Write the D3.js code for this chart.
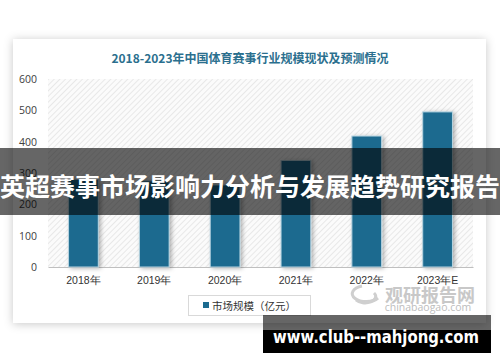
<!DOCTYPE html>
<html>
<head>
<meta charset="utf-8">
<script src="https://cdn.jsdelivr.net/npm/d3@7"></script>
<style>
  html, body { margin: 0; padding: 0; background: #fff; }
  svg { display: block; font-family: "Noto Sans CJK SC", "Noto Sans", sans-serif; }
</style>
</head>
<body>
<svg id="chart" width="500" height="362"></svg>
<script>
// 数据
const years = ['2018年', '2019年', '2020年', '2021年', '2022年', '2023年E'];
const marketSize = [280, 275, 262, 340, 418, 495];
const yTicks = [0, 100, 200, 300, 400, 500, 600];
const titleText = '2018-2023年中国体育赛事行业规模现状及预测情况';
const legendText = '市场规模（亿元）';
const bannerText = '英超赛事市场影响力分析与发展趋势研究报告';
const siteText = 'www.club--mahjong.com';

const svg = d3.select('#chart');
const defs = svg.append('defs');

// 卡片阴影
const shadow = defs.append('filter').attr('id', 'cardShadow')
    .attr('x', '-10%').attr('y', '-10%').attr('width', '120%').attr('height', '120%');
shadow.append('feDropShadow')
    .attr('dx', 0).attr('dy', 1).attr('stdDeviation', 5)
    .attr('flood-color', '#000').attr('flood-opacity', 0.22);

// 柱子阴影
const barShadow = defs.append('filter').attr('id', 'barShadow')
    .attr('x', '-30%').attr('y', '-10%').attr('width', '170%').attr('height', '130%');
barShadow.append('feDropShadow')
    .attr('dx', 2).attr('dy', 1).attr('stdDeviation', 2)
    .attr('flood-color', '#000').attr('flood-opacity', 0.3);

// 斜线底纹
const hatch = defs.append('pattern').attr('id', 'hatch')
    .attr('patternUnits', 'userSpaceOnUse')
    .attr('width', 4).attr('height', 4)
    .attr('patternTransform', 'rotate(45)');
hatch.append('rect').attr('width', 4).attr('height', 4).attr('fill', '#fbfbfb');
hatch.append('line').attr('x1', 0).attr('y1', 0).attr('x2', 0).attr('y2', 4)
    .attr('stroke', '#dcdcdc').attr('stroke-width', 1.2);

// 白色卡片
svg.append('rect')
    .attr('x', 13).attr('y', 39).attr('width', 473).attr('height', 284)
    .attr('fill', '#fff')
    .attr('filter', 'url(#cardShadow)');

// 标题
svg.append('text')
    .attr('x', 250).attr('y', 57)
    .attr('text-anchor', 'middle').attr('dominant-baseline', 'central')
    .attr('font-size', 12).attr('font-weight', 'bold')
    .attr('fill', '#2b6f8e')
    .text(titleText);

const margin = {top: 79, left: 48, right: 27, bottom: 95};
const width = 500 - margin.left - margin.right;
const height = 362 - margin.top - margin.bottom;

const x = d3.scaleBand().domain(years).range([0, width]).paddingInner(0.58).paddingOuter(0.29);
const y = d3.scaleLinear().domain([0, 600]).range([height, 0]);

const g = svg.append('g').attr('transform', `translate(${margin.left},${margin.top})`);

// 绘图区底纹
g.append('rect')
    .attr('width', width).attr('height', height)
    .attr('fill', 'url(#hatch)');

// y轴
const yAxis = g.append('g')
    .call(d3.axisLeft(y).tickValues(yTicks).tickSize(0).tickPadding(11));
yAxis.select('.domain').remove();
yAxis.selectAll('text')
    .attr('font-size', 10.5).attr('fill', '#404040')
    .attr('font-family', '"Open Sans", "Noto Sans", sans-serif');

// x轴
const xAxis = g.append('g')
    .attr('transform', `translate(0,${height})`)
    .call(d3.axisBottom(x).tickSize(0).tickPadding(10));
xAxis.select('.domain').attr('stroke', '#bfbfbf');
xAxis.selectAll('text')
    .attr('font-size', 10.5).attr('fill', '#333');

// 柱子
g.selectAll('.bar')
    .data(marketSize)
    .enter()
    .append('rect')
    .attr('class', 'bar')
    .attr('x', (d, i) => x(years[i]))
    .attr('y', d => y(d))
    .attr('width', x.bandwidth())
    .attr('height', d => height - y(d))
    .attr('fill', '#1c6b8f')
    .attr('stroke', '#b7d3e0').attr('stroke-width', 1)
    .attr('filter', 'url(#barShadow)');

// 图例
svg.append('rect')
    .attr('x', 188.5).attr('y', 295.5).attr('width', 122).attr('height', 20)
    .attr('fill', '#fff').attr('stroke', '#d9d9d9');
svg.append('rect')
    .attr('x', 203).attr('y', 302).attr('width', 6).attr('height', 6)
    .attr('fill', '#1c6b8f');
svg.append('text')
    .attr('x', 212).attr('y', 305.5)
    .attr('dominant-baseline', 'central')
    .attr('font-size', 10.5).attr('fill', '#333')
    .text(legendText);

// 水印
const wm = svg.append('g').attr('fill', 'none').attr('stroke', '#cfcfcf').attr('stroke-width', 3);
wm.append('path').attr('d', 'M362,286 A14,8 0 1,0 378,298');
wm.append('path').attr('d', 'M356,300 A10,6 0 0,0 374,293');
svg.append('text')
    .attr('x', 430).attr('y', 294)
    .attr('text-anchor', 'middle').attr('dominant-baseline', 'central')
    .attr('font-size', 18).attr('font-weight', 'bold')
    .attr('fill', '#c8c8c8')
    .text('观研报告网');
svg.append('text')
    .attr('x', 428).attr('y', 307)
    .attr('text-anchor', 'middle').attr('dominant-baseline', 'central')
    .attr('font-size', 10.5).attr('fill', '#bdbdbd')
    .attr('font-family', '"Open Sans", sans-serif')
    .text('chinabaogao.com');

// 横幅
svg.append('rect')
    .attr('x', 0).attr('y', 148).attr('width', 500).attr('height', 67)
    .attr('fill', '#000').attr('fill-opacity', 0.6);
svg.append('text')
    .attr('x', 250).attr('y', 185)
    .attr('text-anchor', 'middle').attr('dominant-baseline', 'central')
    .attr('font-size', 25).attr('font-weight', 'bold')
    .attr('fill', '#fff')
    .attr('textLength', 500).attr('lengthAdjust', 'spacingAndGlyphs')
    .text(bannerText);

// 底部网址
svg.append('rect')
    .attr('x', 263).attr('y', 315).attr('width', 228).attr('height', 15)
    .attr('fill', '#000').attr('fill-opacity', 0.6);
svg.append('rect')
    .attr('x', 263).attr('y', 330).attr('width', 228).attr('height', 23)
    .attr('fill', '#000');
svg.append('text')
    .attr('x', 273).attr('y', 343)
    .attr('font-size', 17).attr('font-weight', 'bold')
    .attr('font-family', '"DejaVu Sans", sans-serif')
    .attr('fill', '#fff')
    .attr('textLength', 206).attr('lengthAdjust', 'spacingAndGlyphs')
    .text(siteText);
</script>
</body>
</html>
